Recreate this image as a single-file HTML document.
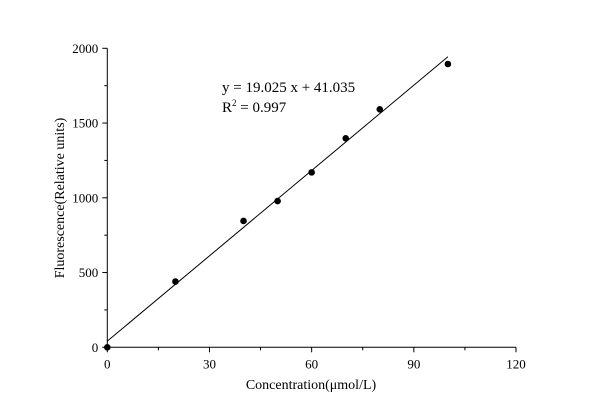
<!DOCTYPE html>
<html><head><meta charset="utf-8"><style>body{margin:0;background:#fff}svg{display:block;font-family:"Liberation Serif",serif}</style></head>
<body>
<svg id="c" width="600" height="417"></svg>
<script>
const xs=[0,20,40,50,60,70,80,100];
const ys=[0,440,845,978,1170,1398,1592,1895];
const xTicks=[0,30,60,90,120];
const yTicks=[0,500,1000,1500,2000];
const slope=19.025, intercept=41.035;
const NS='http://www.w3.org/2000/svg';
const svg=document.getElementById('c');
const X0=107.3,X1=516,Y0=347.3,Y1=48.3;
const sx=v=>X0+(v/120)*(X1-X0);
const sy=v=>Y0-(v/2000)*(Y0-Y1);
function mk(t,a,p){const e=document.createElementNS(NS,t);for(const k in a)e.setAttribute(k,a[k]);(p||svg).appendChild(e);return e;}
let e;
e=mk('line',{x1:X0,y1:Y0,x2:X1,y2:Y0,stroke:'#000','stroke-width':1});


e=mk('line',{x1:X0,y1:Y0,x2:X0,y2:Y1,stroke:'#000','stroke-width':1});


for(let i=0;i<xTicks.length;i++){const v=xTicks[i];
 mk('line',{x1:sx(v),y1:Y0,x2:sx(v),y2:Y0+5,stroke:'#000'});
 if(i<xTicks.length-1){const m=(v+xTicks[i+1])/2;mk('line',{x1:sx(m),y1:Y0,x2:sx(m),y2:Y0+3,stroke:'#000'});}
 e=mk('text',{x:sx(v),y:Y0+21,'text-anchor':'middle','font-size':13});e.textContent=v;
 
 
}
for(let i=0;i<yTicks.length;i++){const v=yTicks[i];
 mk('line',{x1:X0,y1:sy(v),x2:X0-5,y2:sy(v),stroke:'#000'});
 if(i<yTicks.length-1){const m=(v+yTicks[i+1])/2;mk('line',{x1:X0,y1:sy(m),x2:X0-3,y2:sy(m),stroke:'#000'});}
 e=mk('text',{x:X0-9,y:sy(v)+4.5,'text-anchor':'end','font-size':13});e.textContent=v;
 
 
}
e=mk('line',{x1:sx(0),y1:sy(intercept),x2:sx(100),y2:sy(slope*100+intercept),stroke:'#000','stroke-width':1});


for(let i=0;i<xs.length;i++){
 e=mk('circle',{cx:sx(xs[i]),cy:sy(ys[i]),r:3.3,fill:'#000'});
 
 
}
e=mk('text',{x:222,y:92,'font-size':15});e.textContent='y = 19.025 x + 41.035';


e=mk('text',{x:222,y:112,'font-size':15});e.innerHTML='R<tspan dy="-6" font-size="9">2</tspan><tspan dy="6"> = 0.997</tspan>';


e=mk('text',{x:311,y:389,'text-anchor':'middle','font-size':14});e.textContent='Concentration(μmol/L)';


e=mk('text',{x:0,y:0,'text-anchor':'middle','font-size':14,transform:'translate(64,198) rotate(-90)'});e.textContent='Fluorescence(Relative units)';


</script>
</body></html>
